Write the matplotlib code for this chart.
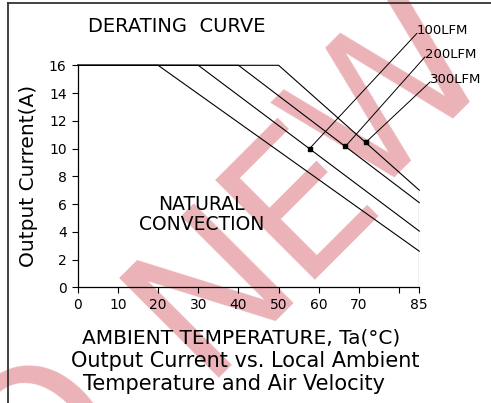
import matplotlib
matplotlib.use("Agg")
import matplotlib.pyplot as plt
from matplotlib.lines import Line2D

# derating curves: (temperature breakpoints, output current)
temp_nat = [0, 20, 85]
curr_nat = [16, 16, 2.6]
temp_100 = [0, 30, 85]
curr_100 = [16, 16, 4.05]
temp_200 = [0, 40, 85]
curr_200 = [16, 16, 6.1]
temp_300 = [0, 50, 85]
curr_300 = [16, 16, 7.0]

# marker points on the airflow curves and where their leader lines end
marker_x = [57.7, 66.6, 71.7]
marker_y = [10.0, 10.15, 10.45]
leader_x = [84.4, 86.4, 87.7]
leader_y = [18.3, 16.6, 14.8]
flow_labels = ["100LFM", "200LFM", "300LFM"]

xticks = [0, 10, 20, 30, 40, 50, 60, 70, 80, 85]
xtick_labels = ["0", "10", "20", "30", "40", "50", "60", "70", "", "85"]
yticks = [0, 2, 4, 6, 8, 10, 12, 14, 16]

fig = plt.figure(figsize=(4.91, 4.03), dpi=100)
fig.patch.set_facecolor("white")

# pink watermark letters behind everything, anchored at each letter's baseline start
wm_color = "#ebb3b8"
wm_letters = ["O", "N", "E", "W"]
wm_anchor = [(30, 532), (200, 378), (296, 280), (364, 202)]
for letter, (px, py) in zip(wm_letters, wm_anchor):
    fig.text(px / 491, 1 - py / 403, letter, rotation=45, rotation_mode="anchor",
             fontsize=138, family=["Liberation Sans Narrow", "DejaVu Sans"],
             color=wm_color, ha="left", va="baseline", zorder=-5)

# outer frame (top and left edges)
fig.add_artist(Line2D([7.5 / 491, 1.0], [1 - 3 / 403, 1 - 3 / 403], color="#333333", lw=1.3))
fig.add_artist(Line2D([7.5 / 491, 7.5 / 491], [0, 1 - 3 / 403], color="#333333", lw=1.3))

ax = fig.add_axes([77.7 / 491, 1 - 287.3 / 403, (419.3 - 77.7) / 491, (287.3 - 65.3) / 403])
ax.set_facecolor("none")

lw = 0.8
ax.plot(temp_nat, curr_nat, color="black", lw=lw, clip_on=False)
ax.plot(temp_100, curr_100, color="black", lw=lw, clip_on=False)
ax.plot(temp_200, curr_200, color="black", lw=lw, clip_on=False)
ax.plot(temp_300, curr_300, color="black", lw=lw, clip_on=False)
ax.vlines(85, 0, curr_300[-1], color="black", lw=lw)

for mx, my, lx, ly, lab in zip(marker_x, marker_y, leader_x, leader_y, flow_labels):
    ax.plot([mx, lx], [my, ly], color="black", lw=0.7, clip_on=False)
    ax.plot(mx, my, marker="s", ms=3.2, color="black", clip_on=False)
    ax.text(lx, ly + 0.2, lab, fontsize=9.5, ha="left", va="center", clip_on=False)

ax.text(30.9, 5.25, "NATURAL\nCONVECTION", fontsize=13.5, ha="center", va="center",
        linespacing=1.05)

ax.set_xlim(0, 85)
ax.set_ylim(0, 16)
ax.set_xticks(xticks)
ax.set_xticklabels(xtick_labels)
ax.set_yticks(yticks)
ax.tick_params(direction="out", length=4, width=0.8, labelsize=10, pad=4)
ax.spines["top"].set_visible(False)
ax.spines["right"].set_visible(False)
ax.spines["left"].set_linewidth(0.9)
ax.spines["bottom"].set_linewidth(0.9)

ax.set_ylabel("Output Current(A)", fontsize=14.5, labelpad=8)

fig.text(88 / 491, 1 - 27 / 403, "DERATING  CURVE", fontsize=14, ha="left", va="center")
fig.text(241 / 491, 1 - 338 / 403, "AMBIENT TEMPERATURE, Ta(°C)", fontsize=14.5,
         ha="center", va="center")
fig.text(245 / 491, 1 - 361 / 403, "Output Current vs. Local Ambient", fontsize=15,
         ha="center", va="center")
fig.text(234 / 491, 1 - 384 / 403, "Temperature and Air Velocity", fontsize=15,
         ha="center", va="center")

fig.savefig("out.png", dpi=100, facecolor="white")
